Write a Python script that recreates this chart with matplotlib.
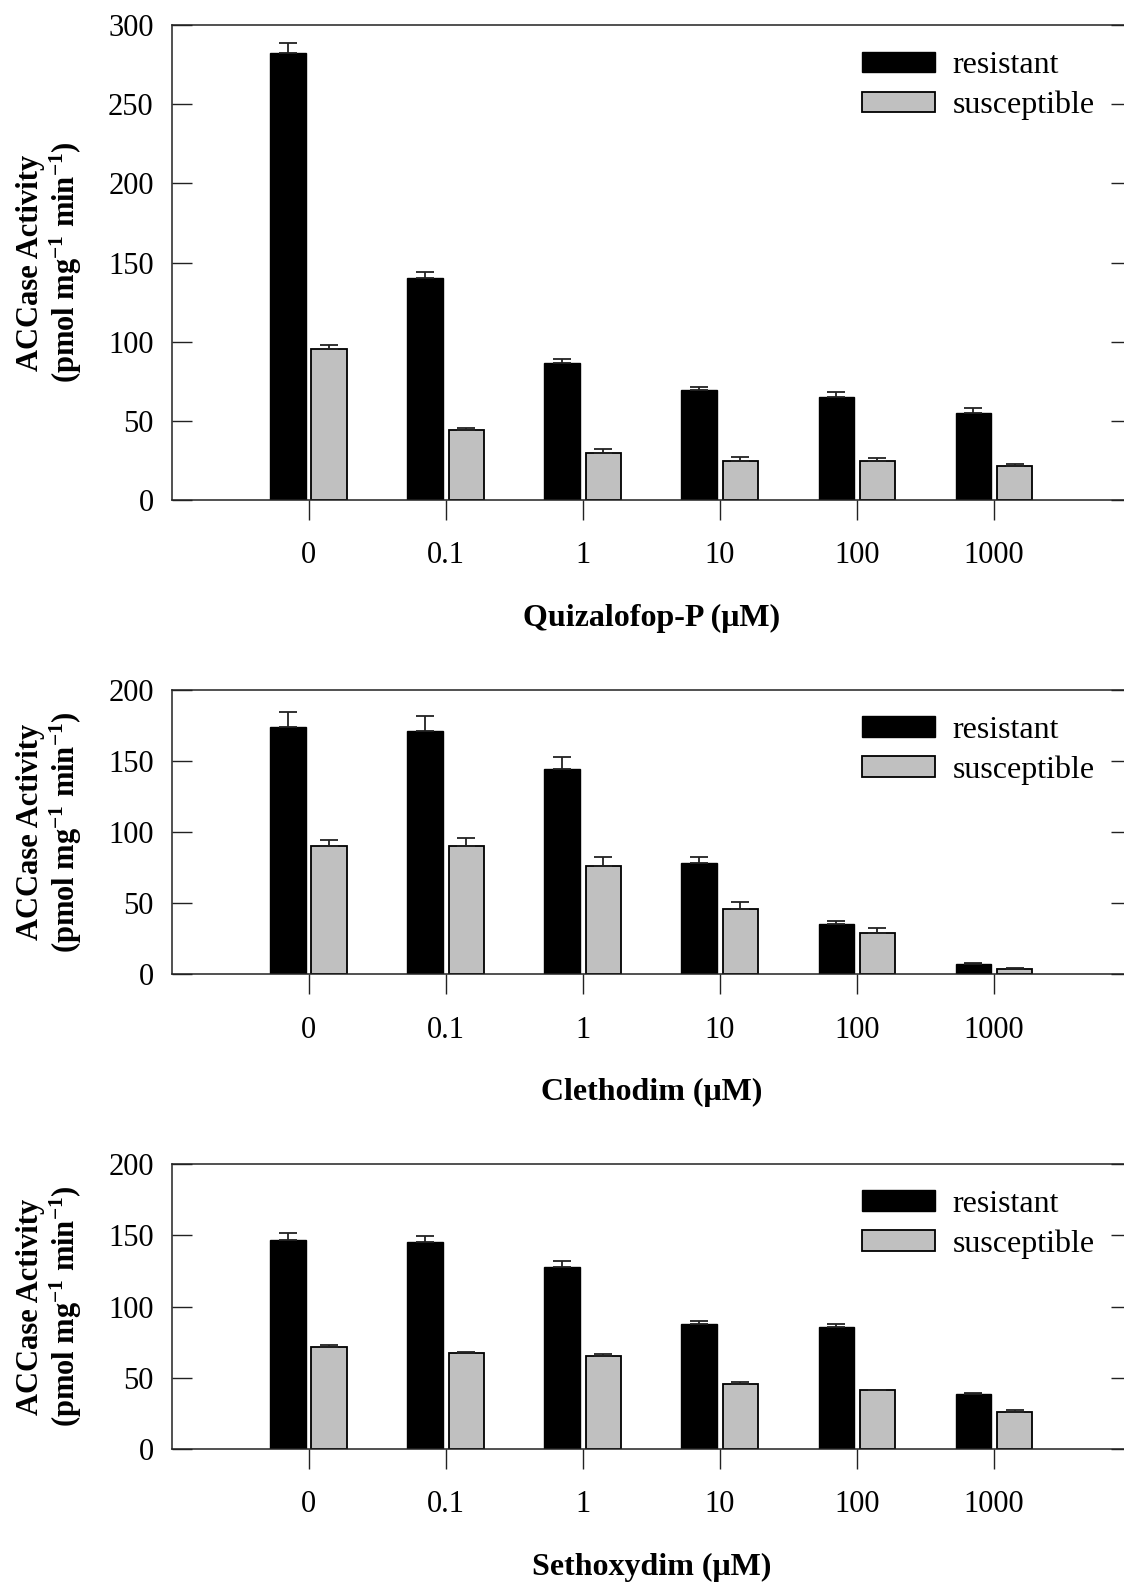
import numpy as np
import matplotlib
matplotlib.use("Agg")
import matplotlib.pyplot as plt

plt.rcParams['font.family'] = ['Liberation Serif', 'DejaVu Serif']
plt.rcParams['mathtext.fontset'] = 'custom'
plt.rcParams['mathtext.rm'] = 'Liberation Serif'
plt.rcParams['mathtext.bf'] = 'Liberation Serif:bold'
plt.rcParams['mathtext.it'] = 'Liberation Serif:italic'

# herbicide concentrations (uM)
doses = ['0', '0.1', '1', '10', '100', '1000']

# ACCase activity, mean and SE (pmol mg-1 min-1)
quiz_res = [282.7, 140.1, 86.4, 69.3, 65.1, 55.0]
quiz_res_se = [5.8, 4.2, 2.7, 1.9, 3.3, 3.3]
quiz_sus = [95.2, 44.0, 29.5, 24.8, 24.8, 21.5]
quiz_sus_se = [2.5, 1.7, 2.9, 2.2, 2.0, 1.4]

cleth_res = [174.0, 171.2, 144.4, 78.0, 35.7, 7.0]
cleth_res_se = [10.8, 10.7, 8.7, 4.6, 2.1, 0.7]
cleth_sus = [90.0, 90.2, 76.1, 46.1, 29.3, 3.7]
cleth_sus_se = [4.7, 5.4, 6.5, 5.0, 3.3, 0.5]

seth_res = [146.5, 145.5, 127.5, 87.5, 85.6, 38.4]
seth_res_se = [5.3, 4.2, 4.6, 2.3, 2.3, 1.1]
seth_sus = [71.6, 67.4, 65.5, 45.4, 41.2, 26.2]
seth_sus_se = [1.4, 0.9, 0.9, 1.4, 0.5, 0.9]

panels = [
    ('Quizalofop-P', quiz_res, quiz_res_se, quiz_sus, quiz_sus_se, 300),
    ('Clethodim', cleth_res, cleth_res_se, cleth_sus, cleth_sus_se, 200),
    ('Sethoxydim', seth_res, seth_res_se, seth_sus, seth_sus_se, 200),
]

W, H = 1124, 1583
fig = plt.figure(figsize=(W / 100, H / 100), dpi=100)

# axes boxes in pixels: (top, bottom)
left_px, right_px = 171.7, 1131.0
boxes = [(25.2, 500.0), (690.0, 974.3), (1164.0, 1449.0)]

x = np.arange(len(doses))
bw = 0.26
off = 0.15
spine_c = '#222222'

for (name, res, res_se, sus, sus_se, ymax), (top, bot) in zip(panels, boxes):
    h = bot - top
    wpx = right_px - left_px
    ax = fig.add_axes([left_px / W, 1 - bot / H, wpx / W, h / H])

    ax.bar(x - off, res, bw, color='black', edgecolor='black', linewidth=1.0,
           yerr=[np.zeros(len(res)), res_se], ecolor=spine_c,
           error_kw=dict(elinewidth=1.3, capsize=6.5, capthick=1.3),
           label='resistant', zorder=2)
    ax.bar(x + off, sus, bw, color='#c0c0c0', edgecolor='black', linewidth=1.3,
           yerr=[np.zeros(len(sus)), sus_se], ecolor=spine_c,
           error_kw=dict(elinewidth=1.3, capsize=6.5, capthick=1.3),
           label='susceptible', zorder=2)

    ax.set_xlim(-1, 6)
    ax.set_ylim(0, ymax)
    ax.set_xticks(x)
    ax.set_xticklabels(doses)
    ax.set_yticks(np.arange(0, ymax + 1, 50))

    for s in ax.spines.values():
        s.set_color(spine_c)
        s.set_linewidth(1.1)

    ax.tick_params(axis='y', direction='in', length=14.4, width=1.0,
                   color=spine_c, labelsize=22, pad=13, right=True)
    ax.tick_params(axis='x', direction='out', length=14.4, width=1.0,
                   color=spine_c, labelsize=22, pad=15.3)

    ax.set_ylabel('ACCase Activity\n(pmol mg$^{\\mathbf{-1}}$ min$^{\\mathbf{-1}}$)',
                  fontsize=22, fontweight='bold', linespacing=1.1)
    ax.yaxis.set_label_coords((84 - left_px) / wpx, 0.5)

    ax.set_xlabel(name + ' (\u03bcM)', fontsize=23, fontweight='bold')
    ax.xaxis.set_label_coords(0.5, -(604 - 500) / h)

    ax.legend(loc='upper left', bbox_to_anchor=((861.7 - left_px) / wpx, 1 - 26 / h),
              frameon=False, fontsize=23, borderpad=0, borderaxespad=0,
              handlelength=2.3, handleheight=0.62, handletextpad=0.55,
              labelspacing=0.33)

fig.savefig('out.png', dpi=100)
